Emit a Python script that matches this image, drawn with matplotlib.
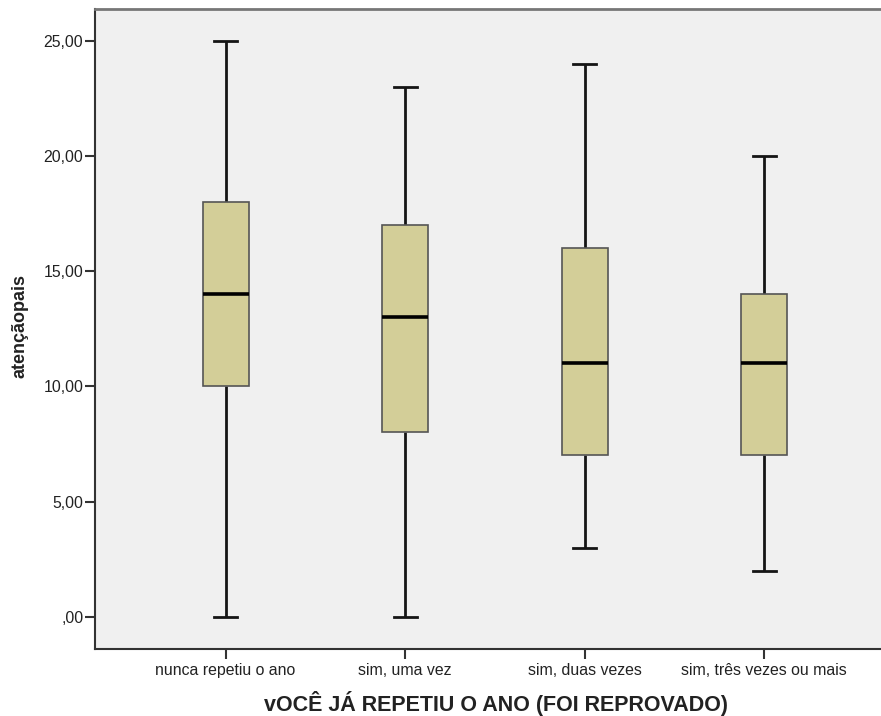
import matplotlib
matplotlib.use("Agg")
import matplotlib.pyplot as plt

categories = ["nunca repetiu o ano", "sim, uma vez", "sim, duas vezes", "sim, três vezes ou mais"]
whisker_low = [0, 0, 3, 2]
q1 = [10, 8, 7, 7]
median = [14, 13, 11, 11]
q3 = [18, 17, 16, 14]
whisker_high = [25, 23, 24, 20]
yticks = [0, 5, 10, 15, 20, 25]
ytick_labels = [",00", "5,00", "10,00", "15,00", "20,00", "25,00"]

plt.rcParams['font.family'] = ['Liberation Sans', 'DejaVu Sans']

fig = plt.figure(figsize=(8.81, 7.16), dpi=100)
ax = fig.add_axes([95/881, 1-648.7/716, 1-95/881, (648.7-8.5)/716])
ax.set_facecolor("#F0F0F0")

stats = []
for i in range(len(categories)):
    stats.append(dict(whislo=whisker_low[i], q1=q1[i], med=median[i], q3=q3[i],
                      whishi=whisker_high[i], fliers=[], label=categories[i]))

positions = list(range(1, len(categories)+1))
ax.bxp(stats, positions=positions, widths=0.256, patch_artist=True, showfliers=False,
       boxprops=dict(facecolor="#D3CE98", edgecolor="#555555", linewidth=1.2, zorder=3),
       medianprops=dict(color="black", linewidth=2.6, zorder=4),
       whiskerprops=dict(color="#151515", linewidth=2.0, solid_capstyle='butt', zorder=2),
       capprops=dict(color="#151515", linewidth=2.0, zorder=2),
       capwidths=0.128)

ax.set_xlim(1-0.727, 4.65)
ax.set_ylim(-1.39, 26.41)
ax.set_yticks(yticks)
ax.set_yticklabels(ytick_labels)
ax.set_xticks(positions)
ax.set_xticklabels(categories)

ax.tick_params(axis='both', direction='out', length=7, width=1.5, color="#333333",
               labelsize=11.4, labelcolor="#222222")
ax.tick_params(axis='y', pad=1.5)
ax.tick_params(axis='x', pad=3)

for s in ['left', 'bottom']:
    ax.spines[s].set_color("#333333")
    ax.spines[s].set_linewidth(1.5)
ax.spines['top'].set_color("#777777")
ax.spines['top'].set_linewidth(2)
ax.spines['right'].set_visible(False)

fig.text(495.5/881, 1-703/716, "vOCÊ JÁ REPETIU O ANO (FOI REPROVADO)", ha='center', va='center',
         fontsize=15.5, fontweight='bold', color="#222222")
fig.text(20/881, 1-326/716, "atençãopais", ha='center', va='center', rotation=90,
         fontsize=13, fontweight='bold', color="#222222")

fig.savefig("out.png", dpi=100)
